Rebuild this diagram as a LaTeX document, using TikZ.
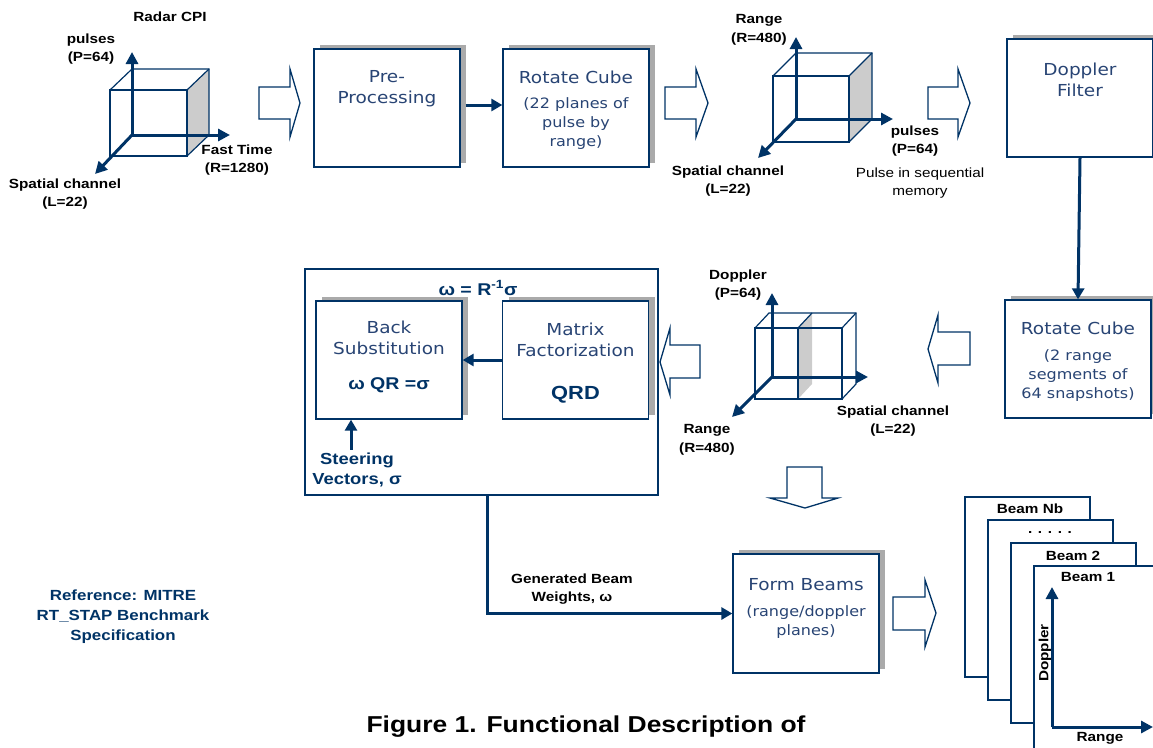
\documentclass[tikz,border=0pt]{standalone}
\usepackage{fontspec}
\setmainfont{Liberation Sans}
\newfontfamily\lab[FakeStretch=1.15]{Liberation Sans}
\newfontfamily\boxf[FakeStretch=1.12]{DejaVu Sans}
\usetikzlibrary{arrows.meta,shadows}
\definecolor{navy}{RGB}{0,51,102}
\definecolor{boxtext}{RGB}{40,68,116}
\definecolor{facegray}{RGB}{204,204,204}
\definecolor{shadowgray}{RGB}{170,170,170}
\tikzset{
  proc/.style={draw=navy, line width=1.3pt, fill=white, minimum width=146pt, minimum height=118pt, inner sep=0pt,
    drop shadow={shadow xshift=6pt, shadow yshift=4pt, fill=shadowgray, opacity=1}},
  bigbox/.style={draw=navy, line width=1.3pt, fill=white, minimum width=353pt, minimum height=226pt, inner sep=0pt},
  cubeline/.style={draw=navy, line width=1.2pt},
  cubeface/.style={fill=facegray},
  axis/.style={draw=navy, line width=3pt, -{Triangle[length=12pt,width=12pt]}},
  conn/.style={draw=navy, line width=3pt, -{Triangle[length=11pt,width=12pt]}},
  blockarrow/.style={draw=navy, line width=1.3pt, fill=white, line join=miter},
  beampage/.style={draw=navy, line width=1.3pt, fill=white},
  lbl/.style={font=\lab\bfseries\fontsize{13.3}{18.5}\selectfont, align=center, inner sep=0pt},
  plain/.style={font=\lab\fontsize{13.3}{18.5}\selectfont, align=center, inner sep=0pt},
  navylbl/.style={font=\lab\bfseries\fontsize{16}{20}\selectfont, text=navy, align=center, inner sep=0pt},
  reflbl/.style={font=\lab\bfseries\fontsize{14.7}{20}\selectfont, text=navy, align=center, inner sep=0pt},
  boxtxt/.style={font=\boxf\fontsize{16.5}{21}\selectfont, text=boxtext, align=center, inner sep=0pt},
  boxsub/.style={font=\boxf\fontsize{14.3}{19}\selectfont, text=boxtext, align=center, inner sep=0pt},
}
\begin{document}
\begin{tikzpicture}[x=1pt,y=-1pt]
\useasboundingbox (0,0) rectangle (1153,747);

% ---------- Cube 1 (Radar CPI) ----------
\fill[cubeface] (187,90) -- (209,69) -- (209,135) -- (187,156) -- cycle;
\draw[cubeline] (110,90) rectangle (187,156);
\draw[cubeline] (110,90) -- (132,69) -- (209,69) -- (209,135) -- (187,156);
\draw[cubeline] (187,90) -- (209,69);
\coordinate (o1) at (132,135);
\coordinate (u1) at (132,52);
\coordinate (r1) at (230,135);
\coordinate (d1) at (95,174);
\draw[axis] (o1) -- (u1);
\draw[axis] (o1) -- (r1);
\draw[axis] (o1) -- (d1);
\node[lbl] (radarcpi) at (170,17) {Radar CPI};
\node[lbl] (pulses1) at (91,49) {pulses\\(P=64)};
\node[lbl] (fast1) at (237,160) {Fast Time\\(R=1280)};
\node[lbl] (spat1) at (65,194) {Spatial channel\\(L=22)};

% ---------- Block arrows ----------
\draw[blockarrow] (259,87) -- (290,87) -- (290,69) -- (300,103) -- (290,137) -- (290,119) -- (259,119) -- cycle;
\draw[blockarrow] (665,87) -- (696,87) -- (696,69) -- (708,103) -- (696,137) -- (696,119) -- (665,119) -- cycle;
\draw[blockarrow] (928,87) -- (958,87) -- (958,69) -- (970,103) -- (958,137) -- (958,119) -- (928,119) -- cycle;
\draw[blockarrow] (970,332) -- (938,332) -- (938,315) -- (928,349) -- (938,383) -- (938,365) -- (970,365) -- cycle;
\draw[blockarrow] (700,345) -- (670,345) -- (670,328) -- (660,362) -- (670,395) -- (670,378) -- (700,378) -- cycle;
\draw[blockarrow] (787,467) -- (822,467) -- (822,498) -- (838,498) -- (805,508) -- (770,498) -- (787,498) -- cycle;
\draw[blockarrow] (893,597) -- (925,597) -- (925,580) -- (936,613) -- (925,647) -- (925,630) -- (893,630) -- cycle;

% ---------- Top row boxes ----------
\node[proc] (pre) at (387,108) {};
\node[boxtxt] (pretxt) at (387,89) {Pre-\\Processing};
\node[proc] (rot1) at (576,108) {};
\node[boxtxt] (rot1title) at (576,77) {Rotate Cube};
\node[boxsub] (rot1sub) at (576,124) {(22 planes of\\pulse by\\range)};
\draw[conn] ([yshift=3pt]pre.east) ++(5,0) -- ([yshift=3pt]rot1.west);

% ---------- Cube 2 ----------
\fill[cubeface] (849,76) -- (872,53) -- (872,119) -- (849,142) -- cycle;
\draw[cubeline] (773,76) rectangle (849,142);
\draw[cubeline] (773,76) -- (796,53) -- (872,53) -- (872,119) -- (849,142);
\draw[cubeline] (849,76) -- (872,53);
\coordinate (o2) at (796,119);
\coordinate (u2) at (796,37);
\coordinate (r2) at (893,119);
\coordinate (d2) at (758,158);
\draw[axis] (o2) -- (u2);
\draw[axis] (o2) -- (r2);
\draw[axis] (o2) -- (d2);
\node[lbl] (range2) at (759,30) {Range\\(R=480)};
\node[lbl] (pulses2) at (915,141) {pulses\\(P=64)};
\node[plain] (seqmem) at (920,183) {Pulse in sequential\\memory};
\node[lbl] (spat2) at (728,181) {Spatial channel\\(L=22)};

% ---------- Doppler filter & rotate cube 2 ----------
\node[proc] (dop) at (1080,98) {};
\node[boxtxt] (doptxt) at (1080,80) {Doppler\\Filter};
\node[proc] (rot2) at (1078,359) {};
\node[boxtxt] (rot2title) at (1078,328) {Rotate Cube};
\node[boxsub] (rot2sub) at (1078,376) {(2 range\\segments of\\64 snapshots)};
\draw[conn] (dop.south) -- (rot2.north);

% ---------- Cube 3 ----------
\fill[cubeface] (798,328) -- (812,313) -- (812,384) -- (798,399) -- cycle;
\draw[cubeline] (755,328) rectangle (842,399);
\draw[cubeline] (755,328) -- (769,313) -- (856,313) -- (856,384) -- (842,399);
\draw[cubeline] (842,328) -- (856,313);
\draw[cubeline] (798,328) -- (798,399);
\draw[cubeline] (798,328) -- (812,313);
\coordinate (o3) at (772,377);
\coordinate (u3) at (772,293);
\coordinate (r3) at (868,377);
\coordinate (d3) at (732,417);
\draw[axis] (o3) -- (u3);
\draw[axis] (o3) -- (r3);
\draw[axis] (o3) -- (d3);
\node[lbl] (dopl3) at (738,285) {Doppler\\(P=64)};
\node[lbl] (range3) at (707,440) {Range\\(R=480)};
\node[lbl] (spat3) at (893,421) {Spatial channel\\(L=22)};

% ---------- Weight computation ----------
\node[bigbox] (big) at (481.5,382) {};
\node[font=\lab\bfseries\fontsize{17}{20}\selectfont, text=navy, inner sep=0pt] (formula) at (478,288) {ω = R\textsuperscript{-1}σ};
\node[proc] (back) at (389,360) {};
\node[boxtxt] (backtxt) at (389,338) {Back\\Substitution};
\node[font=\lab\bfseries\fontsize{17}{20}\selectfont, text=navy, inner sep=0pt] (backeq) at (389,385) {ω QR =σ};
\node[proc] (mat) at (575.5,360) {};
\node[boxtxt] (mattxt) at (575.5,340) {Matrix\\Factorization};
\node[font=\lab\bfseries\fontsize{19}{22}\selectfont, text=navy, inner sep=0pt] (qrd) at (575.5,395) {QRD};
\draw[conn] (mat.west) -- (back.east);
\node[navylbl] (steer) at (357,470) {Steering\\Vectors, σ};
\draw[conn] ([xshift=-6pt,yshift=3pt]steer.north) -- ([xshift=-6pt]steer.north |- back.south);

% ---------- Form beams ----------
\node[proc, minimum height=119pt] (form) at (806,613.5) {};
\node[boxtxt] (formtitle) at (806,585) {Form Beams};
\node[boxsub] (formsub) at (806,622) {(range/doppler\\planes)};
\coordinate (gwx) at (487,0);
\draw[conn] (big.south -| gwx) |- (form.west);
\node[lbl] (genw) at (572,589) {Generated Beam\\Weights, ω};

% ---------- Beam pages ----------
\draw[beampage] (965,497) rectangle (1090,677);
\draw[beampage] (988,520) rectangle (1113,700);
\draw[beampage] (1011,543) rectangle (1136,723);
\draw[beampage] (1034,566) rectangle (1160,750);
\node[lbl] (bnb) at (1030,509) {Beam Nb};
\node[lbl] (bdots) at (1050,533) {. . . . .};
\node[lbl] (b2) at (1073,556) {Beam 2};
\node[lbl] (b1) at (1088,577) {Beam 1};
\coordinate (o4) at (1052,727);
\coordinate (u4) at (1052,587);
\coordinate (r4) at (1153,727);
\draw[axis] (o4) -- (u4);
\draw[axis] (o4) -- (r4);
\node[lbl, rotate=90] (bdop) at (1045,653) {Doppler};
\node[lbl] (brange) at (1100,738) {Range};

% ---------- Reference and caption ----------
\node[reflbl] (ref) at (123,617) {Reference: MITRE\\RT\_STAP Benchmark\\Specification};
\node[font=\lab\bfseries\fontsize{23}{26}\selectfont, inner sep=0pt] (caption) at (586,727) {Figure 1. Functional Description of};
\end{tikzpicture}
\end{document}
